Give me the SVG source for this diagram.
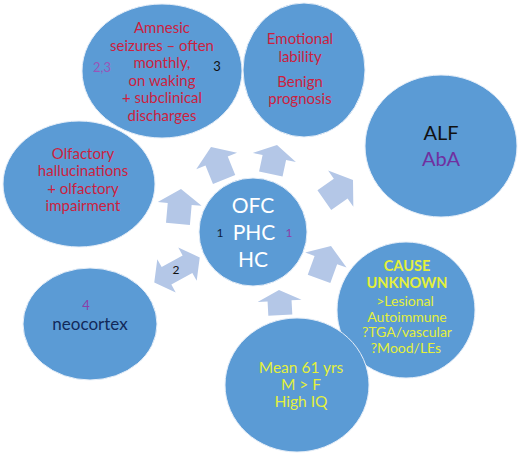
<svg xmlns="http://www.w3.org/2000/svg" width="520" height="456" viewBox="0 0 520 456">
<defs>
<style>
.c{fill:#5B9BD5;stroke:#E6EEF8;stroke-width:1}
.a{fill:#B4C7E7}
text{font-family:Lato,"Open Sans","Liberation Sans",sans-serif;text-anchor:middle}
.r{fill:#CC1F3F;font-size:15px}
.y{fill:#E4F03A;font-size:14px}
.w{fill:#FFFFFF;font-size:21px}
.p{fill:#8B3FA8;font-size:12px}
.k{fill:#111111;font-size:12px}
</style>
<path id="arr" d="M0,0 L22,15 L12,15 L12,35 L-12,35 L-12,15 L-22,15 Z"/>
</defs>
<rect width="520" height="456" fill="#FFFFFF"/>
<g id="connectors">
<use href="#arr" class="a" transform="translate(211,147) rotate(-22)"/>
<use href="#arr" class="a" transform="translate(277,145) rotate(12) scale(1,0.85)"/>
<use href="#arr" class="a" transform="translate(353,180) rotate(55)"/>
<use href="#arr" class="a" transform="translate(331,246) rotate(20)"/>
<use href="#arr" class="a" transform="translate(279,290) rotate(-3) scale(1,0.72)"/>
<use href="#arr" class="a" transform="translate(181,189) rotate(5)"/>
<path class="a" transform="translate(177,270) rotate(-29)" d="M-26,0 L-12,-19 L-12,-10 L12,-10 L12,-19 L26,0 L12,19 L12,10 L-12,10 L-12,19 Z"/>
<text class="k" x="176" y="274">2</text>
</g>
<g id="n-amnesic">
<ellipse class="c" cx="162" cy="71" rx="80" ry="67"/>
<text class="r" x="162" y="33">Amnesic</text>
<text class="r" x="162" y="50.5">seizures – often</text>
<text class="r" x="162" y="68">monthly,</text>
<text class="r" x="162" y="85.5">on waking</text>
<text class="r" x="162" y="103">+ subclinical</text>
<text class="r" x="162" y="120.5">discharges</text>
<text class="p" x="102" y="71.5" style="font-size:13px;fill:#9A55B8">2,3</text>
<text class="k" x="217" y="71" style="font-size:13px">3</text>
</g>
<g id="n-emotional">
<ellipse class="c" cx="304" cy="70" rx="61" ry="67"/>
<text class="r" x="300" y="44">Emotional</text>
<text class="r" x="300" y="62">lability</text>
<text class="r" x="300" y="86.5">Benign</text>
<text class="r" x="300" y="103.5">prognosis</text>
</g>
<g id="n-alf">
<ellipse class="c" cx="441" cy="146" rx="76" ry="71"/>
<text x="441" y="139.5" style="font-size:20px;fill:#111111">ALF</text>
<text x="441" y="166" style="font-size:20px;fill:#7030A0">AbA</text>
</g>
<g id="n-olfactory">
<ellipse class="c" cx="79" cy="184" rx="76" ry="63"/>
<text class="r" x="83" y="159">Olfactory</text>
<text class="r" x="83" y="176">hallucinations</text>
<text class="r" x="83" y="193.5">+ olfactory</text>
<text class="r" x="83" y="210.5">impairment</text>
</g>
<g id="n-center">
<circle class="c" cx="253" cy="232" r="54"/>
<text class="w" x="253" y="212.5">OFC</text>
<text class="w" x="254" y="239.5">PHC</text>
<text class="w" x="253" y="266.5">HC</text>
<text class="k" x="220" y="237" style="fill:#0E1E3C">1</text>
<text class="p" x="289" y="237">1</text>
</g>
<g id="n-neocortex">
<ellipse class="c" cx="90" cy="324" rx="67" ry="56"/>
<text class="p" x="86" y="310" style="font-size:13px">4</text>
<text x="90" y="329.5" style="font-size:17px;fill:#12295A">neocortex</text>
</g>
<g id="n-cause">
<ellipse class="c" cx="406" cy="310" rx="69" ry="68"/>
<text class="y" x="407" y="270.5" style="font-weight:bold;font-size:14.5px">CAUSE</text>
<text class="y" x="407" y="288" style="font-weight:bold;font-size:14.5px">UNKNOWN</text>
<text class="y" x="405" y="305.5">&gt;Lesional</text>
<text class="y" x="407" y="321.5">Autoimmune</text>
<text class="y" x="407" y="337">?TGA/vascular</text>
<text class="y" x="406" y="353">?Mood/LEs</text>
</g>
<g id="n-mean">
<ellipse class="c" cx="297" cy="385" rx="72" ry="67"/>
<text class="y" x="301" y="373" style="font-size:15.5px">Mean 61 yrs</text>
<text class="y" x="301" y="390" style="font-size:15.5px">M &gt; F</text>
<text class="y" x="301" y="407" style="font-size:15.5px">High IQ</text>
</g>
</svg>
